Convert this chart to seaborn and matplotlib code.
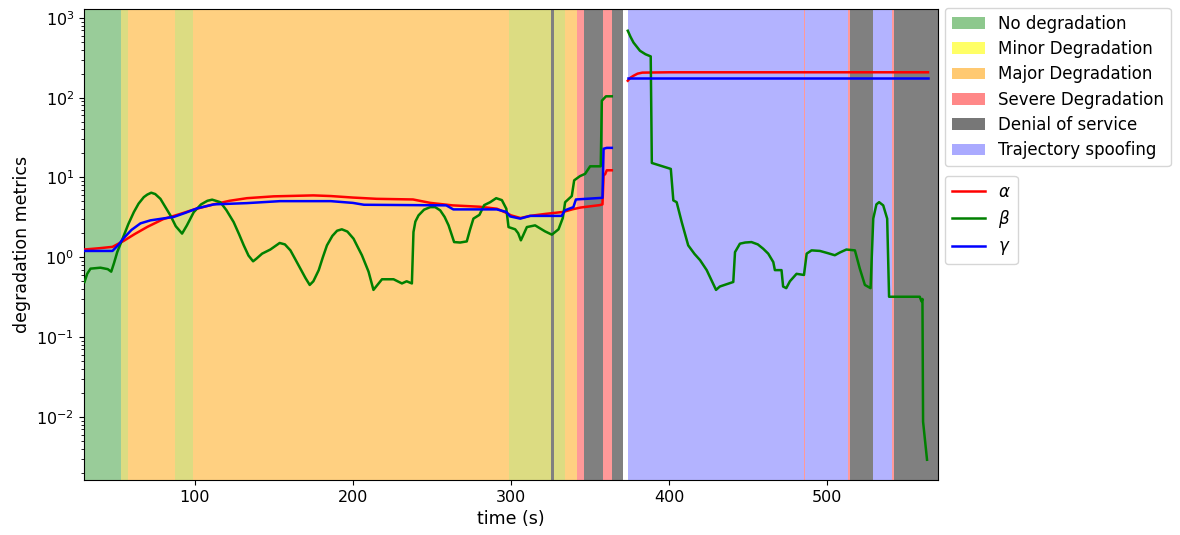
import numpy as np
import pandas as pd
import matplotlib
matplotlib.use("Agg")
import matplotlib.pyplot as plt
from matplotlib.patches import Patch
from matplotlib.lines import Line2D
import seaborn as sns

# ---------------- data ----------------
alpha_t1 = [30, 40, 48, 55, 62, 70, 80, 91, 100, 112, 122, 133, 150, 175, 186, 200, 215,
            238, 249, 263, 280, 291, 297, 300, 306, 312, 322, 333, 339, 344, 348, 356,
            357.8, 358.5, 359.5, 360.5, 363.7]
alpha_v1 = [1.25, 1.3, 1.35, 1.6, 1.95, 2.4, 3.0, 3.5, 4.0, 4.6, 5.1, 5.5, 5.8, 5.96, 5.85,
            5.6, 5.4, 5.3, 4.8, 4.47, 4.3, 4.06, 3.6, 3.35, 3.1, 3.3, 3.5, 3.7, 4.0, 4.2,
            4.3, 4.5, 4.6, 10.6, 11.0, 12.3, 12.3]
alpha_t2 = [373.8, 375.5, 377.4, 380, 383, 400, 450, 500, 563.6]
alpha_v2 = [163, 178, 188, 200, 206, 208, 208, 208, 208]

gamma_t1 = [30, 48, 52, 55, 60, 65.7, 72, 80.4, 86.7, 94, 101.5, 112, 133, 154, 186, 200,
            207, 259, 263.5, 291, 297, 299.4, 305.8, 312, 332, 334, 339.4, 341, 357.8,
            358.5, 360.5, 363.7]
gamma_v1 = [1.2, 1.2, 1.45, 1.73, 2.2, 2.66, 2.9, 3.07, 3.2, 3.6, 4.1, 4.6, 4.77, 5.05,
            5.05, 4.8, 4.55, 4.47, 3.98, 3.98, 3.7, 3.25, 3.05, 3.3, 3.3, 3.87, 4.25, 5.3,
            5.56, 22.9, 23.5, 23.5]
gamma_t2 = [373.8, 563.6]
gamma_v2 = [176, 176]

beta_t1 = [30.3, 32, 34.1, 40.4, 45, 47.2, 49, 51, 55.2, 58, 61.5, 64.5, 67.8, 70, 72.5,
           75, 78.3, 81, 84.6, 88, 92, 95, 99.4, 104, 108, 111, 116.2, 120, 124.6, 128,
           131, 134, 136.9, 139, 142.6, 147.8, 153.7, 157, 160.5, 163.5, 166.8, 170, 172.7,
           175, 178.4, 181, 183.6, 187, 190, 193, 196.5, 200.4, 203, 205.7, 209.9, 213,
           215.5, 218.4, 225.7, 231, 234, 237.3, 238.3, 239.5, 241.5, 245, 248.9, 252,
           255.2, 258, 260.5, 264, 267.8, 272, 274, 276.2, 280, 283, 286.8, 290.6, 294.2,
           297, 298.4, 302.6, 304.5, 306.2, 308, 310, 315.2, 321.5, 325.8, 330, 332.7,
           334.2, 338.4, 339.9, 343.6, 346.8, 350, 356.7, 357.4, 360, 363.7]
beta_v1 = [0.49, 0.62, 0.72, 0.74, 0.71, 0.66, 0.85, 1.16, 1.88, 2.6, 3.68, 4.7, 5.67, 6.1,
           6.44, 6.2, 5.4, 4.4, 3.35, 2.45, 1.98, 2.5, 3.68, 4.6, 5.1, 5.27, 4.9, 3.9, 2.76,
           1.95, 1.41, 1.05, 0.89, 0.96, 1.11, 1.25, 1.51, 1.45, 1.22, 0.95, 0.72, 0.55,
           0.45, 0.5, 0.69, 1.0, 1.41, 1.85, 2.15, 2.24, 2.1, 1.71, 1.35, 1.06, 0.66, 0.39,
           0.45, 0.53, 0.53, 0.47, 0.50, 0.47, 2.07, 2.8, 3.35, 3.95, 4.25, 4.25, 3.87,
           3.2, 2.51, 1.55, 1.53, 1.58, 2.2, 3.05, 3.4, 4.5, 4.9, 5.5, 5.2, 4.06, 2.39,
           2.24, 2.0, 1.63, 1.95, 2.39, 2.51, 2.11, 1.92, 2.24, 3.1, 4.9, 5.85, 9.2, 10.4,
           11.1, 13.8, 13.8, 91.5, 104, 104]
beta_t2 = [373.8, 375.5, 377.4, 381.5, 385, 388.3, 389, 401, 402.6, 404.7, 407.9, 412,
           416, 419.5, 423.7, 429.6, 432, 440.5, 441.6, 444.7, 448, 452, 456, 459.4,
           462.6, 465.8, 466.8, 471, 472, 474, 476.3, 480.5, 485.2, 486.9, 490, 495.3,
           500, 504.7, 508, 512, 517.4, 520.5, 523.7, 527.3, 529, 531, 532.7, 535.3,
           537.8, 539, 558.4, 559.5, 560.1, 560.5, 563]
beta_v2 = [690, 580, 491, 387, 350, 329, 15.2, 12.8, 5.16, 4.9, 2.76, 1.41, 1.1, 0.92,
           0.69, 0.39, 0.43, 0.49, 1.16, 1.48, 1.53, 1.55, 1.45, 1.28, 1.11, 0.87, 0.69,
           0.69, 0.43, 0.41, 0.50, 0.62, 0.6, 1.11, 1.22, 1.2, 1.13, 1.06, 1.15, 1.25,
           1.22, 0.72, 0.45, 0.41, 3.05, 4.6, 4.9, 4.47, 3.05, 0.32, 0.32, 0.28, 0.30,
           0.0087, 0.0029]

# background state spans
span_start = [30, 53.3, 57.9, 87.4, 99.2, 299, 325.4, 327, 334, 342, 346.2, 358, 364,
              373.8, 485, 486, 513.3, 514.3, 528.6, 540.9, 541.9]
span_end = [53.3, 57.9, 87.4, 99.2, 299, 325.4, 327, 334, 342, 346.2, 358, 364, 371,
            485, 486, 513.3, 514.3, 528.6, 540.9, 541.9, 570]
span_state = ["none", "minor", "major", "minor", "major", "minor", "dos", "minor", "major",
              "severe", "dos", "severe", "dos", "spoof", "severe", "spoof", "severe",
              "dos", "spoof", "severe", "dos"]

state_names = ["No degradation", "Minor Degradation", "Major Degradation",
               "Severe Degradation", "Denial of service", "Trajectory spoofing"]
state_keys = ["none", "minor", "major", "severe", "dos", "spoof"]
span_colors = {"none": "#99CC99", "minor": "#DCDC82", "major": "#FFD081",
               "severe": "#FF9999", "dos": "#808080", "spoof": "#B3B3FF"}
legend_colors = {"none": "#8DC88D", "minor": "#FFFF66", "major": "#FFC971",
                 "severe": "#FF8888", "dos": "#777777", "spoof": "#AAAAFF"}

metric_names = ["alpha", "beta", "gamma"]
metric_labels = [r"$\alpha$", r"$\beta$", r"$\gamma$"]
metric_colors = {"alpha": "red", "beta": "green", "gamma": "blue"}

# ---------------- build frame ----------------
rows = []
for name, segs in [("alpha", [(alpha_t1, alpha_v1), (alpha_t2, alpha_v2)]),
                   ("beta", [(beta_t1, beta_v1), (beta_t2, beta_v2)]),
                   ("gamma", [(gamma_t1, gamma_v1), (gamma_t2, gamma_v2)])]:
    for si, (ts, vs) in enumerate(segs):
        for t, v in zip(ts, vs):
            rows.append({"t": t, "v": v, "metric": name, "seg": si})
df = pd.DataFrame(rows)

# ---------------- plot ----------------
plt.rcParams["font.size"] = 11.5
fig = plt.figure(figsize=(11.8, 5.35), dpi=100)
ax = fig.add_subplot(111)
fig.subplots_adjust(left=0.0712, right=0.795, top=0.983, bottom=0.103)

for s, e, k in zip(span_start, span_end, span_state):
    ax.axvspan(s, e, facecolor=span_colors[k], edgecolor="none", linewidth=0, zorder=0)

sns.lineplot(data=df, x="t", y="v", hue="metric", units="seg", estimator=None,
             hue_order=metric_names, palette=metric_colors, linewidth=1.8,
             legend=False, ax=ax, zorder=3)

ax.set_yscale("log")
ax.set_xlim(30, 570)
ax.set_ylim(10 ** -2.79, 10 ** 3.11)
ax.set_xlabel("time (s)", fontsize=12.5)
ax.set_ylabel("degradation metrics", fontsize=12.5)

state_handles = [Patch(facecolor=legend_colors[k], edgecolor="none", label=n)
                 for k, n in zip(state_keys, state_names)]
leg1 = ax.legend(handles=state_handles, loc="upper left", bbox_to_anchor=(1.008, 1.002),
                 borderaxespad=0, fontsize=12, labelspacing=0.44)
ax.add_artist(leg1)
line_handles = [Line2D([0], [0], color=metric_colors[m], lw=1.8, label=l)
                for m, l in zip(metric_names, metric_labels)]
ax.legend(handles=line_handles, loc="upper left", bbox_to_anchor=(1.008, 0.6454),
          borderaxespad=0, fontsize=12, labelspacing=0.44)

fig.savefig("out.png", dpi=100)
